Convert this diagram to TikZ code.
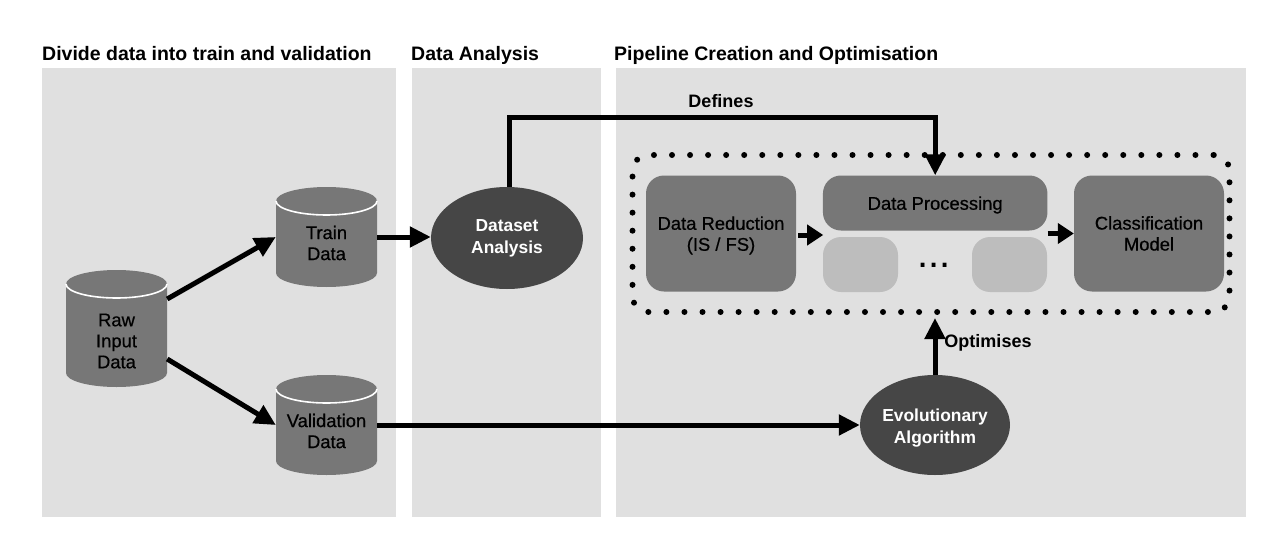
\documentclass[tikz,border=0pt]{standalone}
\usepackage{fontspec}
\setmainfont{Liberation Sans}
\newfontfamily\medfont[FakeBold=0.6]{Liberation Sans}
\usetikzlibrary{arrows.meta,calc,shapes.geometric}
\definecolor{panelgray}{HTML}{E0E0E0}
\definecolor{midgray}{HTML}{777777}
\definecolor{darkgray}{HTML}{464646}
\definecolor{lightgray}{HTML}{BDBDBD}
\tikzset{
  panel/.style={fill=panelgray,draw=none,inner sep=0pt,anchor=north west},
  header/.style={font=\bfseries\fontsize{19.5}{22}\selectfont,anchor=base west,inner sep=0pt},
  lbl/.style={font=\medfont\fontsize{18.4}{21}\selectfont,align=center,text=black,inner sep=0pt},
  edgelabel/.style={font=\bfseries\fontsize{18}{20}\selectfont,inner sep=0pt},
  ellnode/.style={ellipse,fill=darkgray,inner sep=0pt},
  elltext/.style={text=white,inner sep=0pt,font=\bfseries\fontsize{17.4}{22}\selectfont,align=center},
  mainbox/.style={rectangle,rounded corners=18pt,fill=midgray,inner sep=0pt},
  ghostbox/.style={rectangle,rounded corners=18pt,fill=lightgray,inner sep=0pt},
  arr/.style={line width=5pt,-{Triangle[length=21pt,width=20pt]}},
  sarr/.style={line width=5pt,-{Triangle[length=16pt,width=20pt]}},
}
% name, centre x, top, bottom, text centre y, text
\newcommand{\dbcyl}[6]{%
  \fill[midgray] (#2-50.5,#3+14) arc[x radius=50.5,y radius=-14,start angle=180,end angle=0]
     -- (#2+50.5,#4-14) arc[x radius=50.5,y radius=-14,start angle=0,end angle=-180] -- cycle;
  \draw[white,line width=1.6pt] (#2-50.5,#3+14) arc[x radius=50.5,y radius=14,start angle=180,end angle=0];
  \node[rectangle,minimum width=101pt,minimum height=#4pt-#3pt,inner sep=0pt] (#1) at (#2,{(#3+#4)/2}) {};
  \node[lbl] (#1text) at (#2,#5) {#6};
}
\begin{document}
\begin{tikzpicture}[x=1pt,y=-1pt]
\useasboundingbox (0,0) rectangle (1283,554);
\fill[white] (0,0) rectangle (1283,554);
\node[panel,minimum width=354pt,minimum height=449pt] (p1) at (42,68) {};
\node[panel,minimum width=189pt,minimum height=449pt] (p2) at (412,68) {};
\node[panel,minimum width=630pt,minimum height=449pt] (p3) at (616,68) {};
\node[header] (h1) at (42,60) {Divide data into train and validation};
\node[header] (h2) at (411,60) {Data Analysis};
\node[header] (h3) at (614,60) {Pipeline Creation and Optimisation};

\dbcyl{raw}{116.5}{270}{387}{341}{Raw\\Input\\Data}
\dbcyl{train}{326.5}{187}{287}{243}{Train\\Data}
\dbcyl{val}{326.5}{375}{475}{431}{Validation\\Data}

\node[ellnode,minimum width=152pt,minimum height=102pt] (da) at (507,238) {};
\node[elltext] (datext) at (507,238.5) {Dataset\\Analysis};
\node[ellnode,minimum width=150pt,minimum height=100pt] (ea) at (935,425) {};
\node[elltext] (eatext) at (935,428.5) {Evolutionary\\Algorithm};

\node[rectangle,draw=black,line width=6pt,dash pattern=on 0pt off 18.05pt,line cap=round,rounded corners=16pt,minimum width=597pt,minimum height=157pt,inner sep=0pt] (pipe) at (931,233.5) {};

\node[mainbox,minimum width=150pt,minimum height=116pt] (dr) at (721,233.5) {};
\node[lbl] (drtext) at (721,235.5) {Data Reduction\\(IS / FS)};
\node[mainbox,minimum width=224.5pt,minimum height=55pt] (dp) at (935.2,203) {};
\node[lbl] (dptext) at (935.2,205) {Data Processing};
\node[mainbox,minimum width=150pt,minimum height=116pt] (cm) at (1149,233.5) {};
\node[lbl] (cmtext) at (1149,233.5) {Classification\\Model};
\node[ghostbox,minimum width=75pt,minimum height=55pt] (g1) at (860.5,264.5) {};
\node[ghostbox,minimum width=75pt,minimum height=55pt] (g2) at (1009.5,264.5) {};
\node[inner sep=0pt,anchor=base,font=\fontsize{40}{40}\selectfont] (dots) at (934,267) {...};

\draw[arr] ([yshift=29.5pt]raw.east) -- (train.west);
\draw[arr] ([yshift=-30.5pt]raw.east) -- (val.west);
\draw[arr] (train.east) -- (train.east -| da.west);
\draw[arr] (val.east) -- (ea.west);
\coordinate (start1) at ([xshift=2pt]da.north);
\coordinate (bend1) at (start1 |- 0,117);
\coordinate (bend2) at (dp.north |- 0,117);
\draw[arr] (start1) -- (bend1) -- (bend2) -- (dp.north);
\draw[arr] (ea.north) -- ($(ea.north |- pipe.south)+(0,3)$);
\draw[sarr] ([yshift=-1.5pt]dr.east) ++(2,0) -- ++(25,0);
\draw[sarr] (dp.east |- cm.east) -- (cm.west);
\node[edgelabel] (l1) at (721,101) {Defines};
\node[edgelabel] (l2) at (988,343) {Optimises};
\end{tikzpicture}
\end{document}
